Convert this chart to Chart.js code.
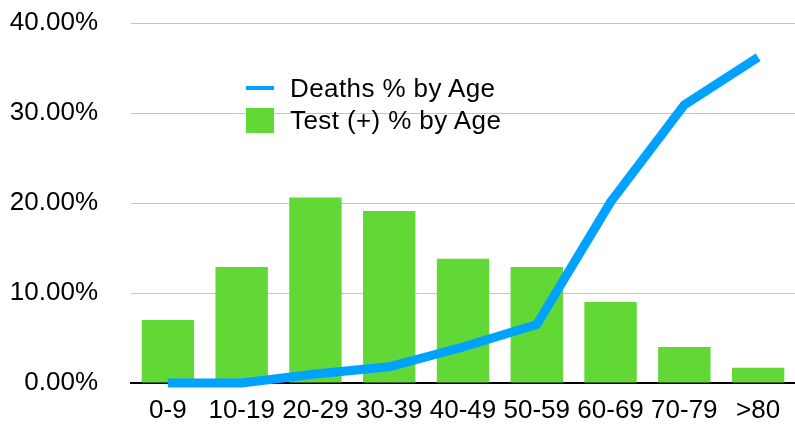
<!DOCTYPE html>
<html>
<head>
<meta charset="utf-8">
<script src="https://cdn.jsdelivr.net/npm/chart.js@4"></script>
<style>
  html, body { margin: 0; padding: 0; background: #fff; }
  #wrap { position: relative; width: 795px; height: 426px; }
  canvas { display: block; }
  #legend { position: absolute; left: 246px; top: 72px; font-family: "Liberation Sans", Arial, sans-serif; font-size: 26px; letter-spacing: 0.4px; color: #000; }
  .item { display: flex; align-items: center; height: 32px; }
  .swatch { width: 28px; margin-right: 16px; }
  .line { height: 4px; background: #00a2ff; }
  .box { height: 25px; background: #61d836; }
</style>
</head>
<body>
<div id="wrap">
  <canvas id="chart" width="795" height="426"></canvas>
  <div id="legend">
    <div class="item"><div class="swatch line"></div>Deaths % by Age</div>
    <div class="item"><div class="swatch box"></div>Test (+) % by Age</div>
  </div>
</div>
<script>
var age_groups = ['0-9', '10-19', '20-29', '30-39', '40-49', '50-59', '60-69', '70-79', '>80'];
var deaths_pct = [0.0, 0.0, 1.0, 1.8, 4.0, 6.5, 20.1, 30.9, 36.2];
var tests_pct = [7.0, 12.9, 20.6, 19.1, 13.8, 12.9, 9.0, 4.0, 1.7];

var font_family = '"Liberation Sans", Arial, sans-serif';

var ctx = document.getElementById('chart');
new Chart(ctx, {
    data: {
        labels: age_groups,
        datasets: [
            {
                type: 'line',
                label: 'Deaths % by Age',
                data: deaths_pct,
                borderColor: '#00a2ff',
                borderWidth: 9,
                borderCapStyle: 'butt',
                borderJoinStyle: 'miter',
                pointRadius: 0,
                tension: 0,
                clip: false,
                order: 0
            },
            {
                type: 'bar',
                label: 'Test (+) % by Age',
                data: tests_pct,
                backgroundColor: '#61d836',
                barPercentage: 0.71,
                categoryPercentage: 1.0,
                order: 1
            }
        ]
    },
    options: {
        responsive: false,
        animation: false,
        layout: { padding: { top: 23, bottom: 0, left: 0, right: 0 } },
        plugins: {
            legend: { display: false },
            tooltip: { enabled: false }
        },
        scales: {
            x: {
                grid: { display: false, drawTicks: false },
                border: { color: '#000', width: 2 },
                ticks: { color: '#000', font: { family: font_family, size: 26 }, padding: 12, maxRotation: 0 },
                afterFit: function (scale) { scale.height = 43; }
            },
            y: {
                min: 0,
                max: 40,
                grid: { color: '#c4c4c4', lineWidth: 1, drawTicks: false },
                border: { display: false },
                ticks: {
                    stepSize: 10,
                    color: '#000',
                    padding: 33,
                    font: { family: font_family, size: 26 },
                    callback: function (v) { return v.toFixed(2) + '%'; }
                },
                afterFit: function (scale) {
                    scale.width = 131;
                    scale.paddingTop = 0;
                    scale.paddingBottom = 0;
                }
            }
        }
    }
});
</script>
</body>
</html>
